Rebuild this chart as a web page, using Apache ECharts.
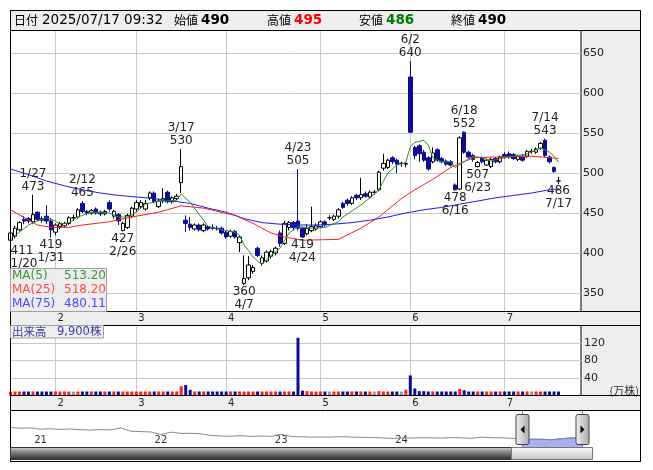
<!DOCTYPE html>
<html><head><meta charset="utf-8">
<script src="https://cdn.jsdelivr.net/npm/echarts@6/dist/echarts.min.js"></script>
<style>html,body{margin:0;padding:0;background:#fff}#c{width:653px;height:470px}</style>
</head><body><div id="c"></div>
<script>
// ---------------- data ----------------
const dates = ['1/20','1/21','1/22','1/23','1/24','1/27','1/28','1/29','1/30','1/31',
'2/3','2/4','2/5','2/6','2/7','2/10','2/12','2/13','2/14','2/17','2/18','2/19','2/20','2/21','2/25','2/26','2/27','2/28',
'3/3','3/4','3/5','3/6','3/7','3/10','3/11','3/12','3/13','3/14','3/17','3/18','3/19','3/21','3/24','3/25','3/26','3/27','3/28','3/31',
'4/1','4/2','4/3','4/4','4/7','4/8','4/9','4/10','4/11','4/14','4/15','4/16','4/17','4/18','4/21','4/22','4/23','4/24','4/25','4/28','4/30',
'5/1','5/2','5/7','5/8','5/9','5/12','5/13','5/14','5/15','5/16','5/19','5/20','5/21','5/22','5/23','5/26','5/27','5/28','5/29','5/30',
'6/2','6/3','6/4','6/5','6/6','6/9','6/10','6/11','6/12','6/13','6/16','6/17','6/18','6/19','6/20','6/23','6/24','6/25','6/26','6/27','6/30',
'7/1','7/2','7/3','7/4','7/7','7/8','7/9','7/10','7/11','7/14','7/15','7/16','7/17'];
const opens = [416,421,429,442,443,439,451,443,446,440,
426,433,434,437,444,445,462,452,450,455,451,449,463,446,448,428,432,446,
455,458,455,469,475,458,465,476,464,468,488,441,436,430,435,428,433,432,431,431,
426,421,427,413,362,369,377,406,387,390,396,400,425,412,432,438,440,431,424,428,430,
433,439,444,442,446,462,466,462,472,469,474,470,476,479,506,507,519,516,512,511,
620,532,534,526,519,514,529,518,515,514,485,480,551,526,522,508,519,510,508,518,514,
523,524,523,517,521,521,527,526,531,541,520,507,490];
const closes = [425,431,438,440,440,448,442,441,440,429,
435,437,437,444,444,454,452,450,453,450,449,452,455,452,440,437,447,456,
463,463,462,475,464,465,468,464,469,471,508,437,432,435,429,435,430,431,430,425,
420,427,420,420,368,385,382,397,394,401,402,406,412,437,438,432,431,420,431,433,434,
439,435,444,446,454,457,462,469,469,473,471,476,476,501,512,516,514,511,512,512,
551,522,524,516,505,525,516,514,511,510,479,544,526,520,517,513,514,516,517,514,520,
520,520,518,521,516,527,527,530,537,522,514,502,490];
const lows = [411,418,427,436,437,436,440,438,436,419,
422,430,432,435,440,443,450,447,448,448,446,447,452,443,435,427,430,444,
452,455,453,466,462,456,462,462,462,466,475,426,428,428,427,426,428,429,428,423,
418,419,418,401,360,366,374,395,384,388,393,397,408,410,428,428,428,419,422,426,428,
431,433,441,440,443,455,459,460,466,466,469,468,473,477,503,505,511,500,508,507,
550,517,514,514,503,512,514,512,509,508,478,479,524,518,514,507,512,509,506,512,512,
518,518,516,515,514,519,524,524,529,520,512,500,486];
const highs = [428,434,440,446,445,473,452,446,460,444,
437,439,439,446,448,456,465,454,455,457,453,454,466,454,450,439,449,458,
466,466,466,477,477,468,481,478,471,474,530,447,445,437,437,437,435,436,434,433,
428,429,429,422,397,396,385,408,397,403,404,408,428,440,440,440,505,433,436,458,437,
441,441,447,448,456,464,468,471,474,494,477,478,479,503,524,518,521,518,514,514,
640,534,536,529,521,532,531,520,517,516,487,546,552,528,524,515,521,518,519,520,522,
526,527,525,523,523,529,530,532,539,543,522,508,495];
// volume, 万株
const volumes = [3,4,3,2,3,6,4,2,5,5,
4,3,3,4,2,5,7,3,4,3,2,3,6,4,4,6,5,4,
4,3,4,6,4,3,5,4,3,3,21,24,13,5,4,4,3,3,4,3,
4,3,4,6,9,7,5,8,5,4,3,4,7,9,6,5,132,11,10,8,5,
4,3,3,4,5,6,4,5,3,8,3,4,3,10,9,5,4,5,3,13,
46,16,10,10,8,5,6,4,3,5,9,15,12,6,5,4,4,5,3,3,4,
4,3,4,3,3,4,3,3,4,9,8,6,0.99];
const quoteTime = '2025/07/17 09:32';

const ma5Dates = ['1/20','1/22','1/24','1/28','1/30','2/3','2/4','2/6','2/10','2/14','2/18','2/20','2/25','2/27','3/3','3/5','3/10','3/12','3/14','3/17','3/19','3/25','3/26','3/31','4/3','4/4','4/7','4/8','4/9','4/10','4/11','4/14','4/15','4/17','4/21','4/23','4/28','5/2','5/9','5/12','5/16','5/20','5/22','5/26','5/28','5/30','6/2','6/3','6/5','6/6','6/9','6/11','6/13','6/16','6/18','6/20','6/24','6/26','6/30','7/3','7/8','7/11','7/14','7/15','7/16','7/17'];
const ma5Vals = [418,426,435,440,444,440,436,438,445,451,451,450,445,445,451,461,465,465,466,474,463,441,433,429,426,422,410,403,395,390,386,391,397,406,425,433,431,432,439,445,460,469,479,500,510,513,533,538,541,535,519,514,514,507,514,521,519,515,518,521,524,531,529,526,521,513.20];
const ma25Dates = ['1/20','1/28','1/31','2/6','2/12','2/20','2/28','3/10','3/17','3/25','4/3','4/9','4/15','4/18','4/24','5/9','5/16','5/22','5/29','6/3','6/9','6/13','6/20','6/27','7/9','7/17'];
const ma25Vals = [454,435,432,432,435,439,445,451,459,456,447,437,425,420,416,417,431,445,468,479,492,507,519,520,521,518.20];
const ma75Dates = ['1/20','1/24','1/30','2/5','2/12','2/18','2/25','3/3','3/7','3/13','3/19','3/26','4/1','4/7','4/11','4/17','4/23','4/30','5/8','5/14','5/20','5/26','5/30','6/5','6/11','6/17','6/23','6/27','7/3','7/9','7/15','7/17'];
const ma75Vals = [505,498,490,484,479,475,472,470,468,465,462,456,451,443,438,436,435,435,436,438,441,445,450,454,457,461,465,469,472,475,479,480.11];

const highMarkDates = ['1/27','2/12','3/17','4/23','6/2','6/18','7/14'];
const highMarkVals = [473,465,530,505,640,552,543];
const lowMarkDates = ['1/20','1/31','2/26','4/7','4/24','6/16','6/23','7/17'];
const lowMarkVals = [411,419,427,360,419,478,507,486];

const navMonths = ['2020/10','2020/11','2020/12',
'2021/01','2021/02','2021/03','2021/04','2021/05','2021/06','2021/07','2021/08','2021/09','2021/10','2021/11','2021/12',
'2022/01','2022/02','2022/03','2022/04','2022/05','2022/06','2022/07','2022/08','2022/09','2022/10','2022/11','2022/12',
'2023/01','2023/02','2023/03','2023/04','2023/05','2023/06','2023/07','2023/08','2023/09','2023/10','2023/11','2023/12',
'2024/01','2024/02','2024/03','2024/04','2024/05','2024/06','2024/07','2024/08','2024/09','2024/10','2024/11','2024/12',
'2025/01','2025/02','2025/03','2025/04','2025/05','2025/06','2025/07'];
const navValues = [1080,1040,1060,
990,1010,980,1000,960,940,970,950,1060,880,860,840,
700,830,760,770,740,650,620,610,640,600,620,600,
720,590,580,560,570,560,590,560,550,540,520,490,
520,510,530,520,510,540,520,500,560,530,520,500,
440,450,445,420,480,520,515];
const navSelStart = '2025/01';

// ---------------- helpers ----------------
const FONT = '"DejaVu Sans", "Noto Sans CJK JP", sans-serif';
const JP = '"Noto Sans CJK JP", sans-serif';
const NAVY = '#0c0c94';
const padCats = ['pad1','pad2','pad3','pad4','pad5'];
const cats = dates.concat(padCats);
const monthOf = d => d.split('/')[0];
const monthStart = new Set();
dates.forEach((d, i) => { if (i > 0 && monthOf(d) !== monthOf(dates[i - 1])) monthStart.add(i); });
const isMS = i => monthStart.has(i);
const navYear = v => (v.endsWith('/01') && v < '2025') ? v.slice(2, 4) : '';
const last = dates.length - 1;

const candleData = dates.map((d, i) => [opens[i], closes[i], lows[i], highs[i]]);
const volColor = i => closes[i] > opens[i] ? '#ff2020' : (closes[i] < opens[i] ? NAVY : (i === last ? NAVY : '#9a9a9a'));
const volData = volumes.map((v, i) => ({ value: v, itemStyle: { color: volColor(i) } }));

const markLabel = { show: true, fontSize: 12, lineHeight: 13, color: '#222', fontFamily: FONT };
const marks = [];
highMarkDates.forEach((d, k) => marks.push({
  coord: [d, highMarkVals[k]],
  label: Object.assign({}, markLabel, { position: 'top', distance: 1, formatter: d + '\n' + highMarkVals[k] },
    dates.indexOf(d) === 0 ? { align: 'left' } : {})
}));
lowMarkDates.forEach((d, k) => marks.push({
  coord: [d, lowMarkVals[k]],
  label: Object.assign({}, markLabel, { position: 'bottom', distance: 0, formatter: lowMarkVals[k] + '\n' + d },
    dates.indexOf(d) === 0 ? { align: 'left' } : {})
}));

const pairs = (ds, vs) => ds.map((d, k) => [d, vs[k]]);

// price scale: 0.8 px per yen, grid height 281
const priceMax = 678.125, priceMin = 326.875;

const monthAxis = (gi) => ({
  type: 'category', gridIndex: gi, data: cats, boundaryGap: false,
  axisLine: { show: false }, axisTick: { show: false },
  axisLabel: { interval: (i) => isMS(i), formatter: (v) => monthOf(v), fontSize: 10, color: '#222',
    margin: gi === 0 ? 2 : 3, align: 'left', padding: [0, 0, 0, 2], fontFamily: FONT },
  splitLine: { show: true, interval: (i) => isMS(i), lineStyle: { color: '#c8c8c8', width: 1 } }
});

const option = {
  animation: false,
  backgroundColor: '#ffffff',
  textStyle: { fontFamily: FONT },
  grid: [
    { left: 10.5, top: 30.5, width: 570.5, height: 281, show: true, backgroundColor: '#fff', borderColor: '#000', borderWidth: 1 },
    { left: 10.5, top: 325.5, width: 570.5, height: 70, show: true, backgroundColor: '#fff', borderColor: '#000', borderWidth: 1 },
    { left: 10.5, top: 410.5, width: 571.5, height: 37, show: false }
  ],
  xAxis: [
    monthAxis(0),
    monthAxis(1),
    { type: 'category', gridIndex: 2, data: navMonths, boundaryGap: false,
      axisLine: { show: false }, axisTick: { show: false }, splitLine: { show: false },
      axisLabel: { interval: (i, v) => navYear(v) !== '', formatter: navYear, inside: true, fontSize: 10, color: '#333', margin: 2 } }
  ],
  yAxis: [
    { type: 'value', gridIndex: 0, position: 'right', min: priceMin, max: priceMax, splitNumber: 7,
      axisLine: { show: false }, axisTick: { show: false },
      axisLabel: { fontSize: 11, color: '#222', margin: 2, showMinLabel: false, showMaxLabel: false,
        formatter: v => (Math.abs(v % 50) < 1e-6 ? String(v) : '') },
      splitLine: { lineStyle: { color: '#c8c8c8', width: 1 } } },
    { type: 'value', gridIndex: 1, position: 'right', min: 0, max: 160, interval: 40,
      axisLine: { show: false }, axisTick: { show: false },
      axisLabel: { fontSize: 11, color: '#222', margin: 3, formatter: v => (v > 0 && v < 160 ? String(v) : '') },
      splitLine: { lineStyle: { color: '#c8c8c8', width: 1 } } },
    { type: 'value', gridIndex: 2, min: 0, max: 2000, show: false }
  ],
  series: [
    { type: 'candlestick', xAxisIndex: 0, yAxisIndex: 0, data: candleData, barWidth: 4, z: 2,
      itemStyle: { color: '#ffffff', color0: NAVY, borderColor: '#000', borderColor0: NAVY, borderColorDoji: '#000', borderWidth: 1 },
      markPoint: { symbol: 'circle', symbolSize: 1, silent: true, itemStyle: { color: 'rgba(0,0,0,0)' }, data: marks } },
    { type: 'line', xAxisIndex: 0, yAxisIndex: 0, data: pairs(ma75Dates, ma75Vals), symbol: 'none', z: 3,
      lineStyle: { color: '#1a1aff', width: 1 } },
    { type: 'line', xAxisIndex: 0, yAxisIndex: 0, data: pairs(ma25Dates, ma25Vals), symbol: 'none', z: 3,
      lineStyle: { color: '#ff1a1a', width: 1 } },
    { type: 'line', xAxisIndex: 0, yAxisIndex: 0, data: pairs(ma5Dates, ma5Vals), symbol: 'none', z: 3,
      lineStyle: { color: '#2f8f2f', width: 1 } },
    { type: 'bar', xAxisIndex: 1, yAxisIndex: 1, data: volData, barWidth: 3, barMinHeight: 4 },
    { type: 'line', xAxisIndex: 2, yAxisIndex: 2, symbol: 'none', z: 2,
      data: navValues.map((v, k) => (k >= navMonths.indexOf(navSelStart) ? v : null)),
      lineStyle: { color: '#7080d0', width: 1 }, areaStyle: { color: '#a6b0f0', opacity: 1 } },
    { type: 'line', xAxisIndex: 2, yAxisIndex: 2, symbol: 'none', z: 3, data: navValues,
      lineStyle: { color: '#8a8a8a', width: 1 } }
  ]
};

const chart = echarts.init(document.getElementById('c'), null, { renderer: 'canvas', width: 653, height: 470 });
chart.setOption(option);

// ---------------- decorations ----------------
const hx1 = chart.convertToPixel({ xAxisIndex: 2 }, navSelStart);
const hx2 = chart.convertToPixel({ xAxisIndex: 2 }, navMonths[navMonths.length - 1]);
const txt = (text, x, y, font, fill, align) => ({ type: 'text', z: 20,
  style: { text, x, y, font, fill: fill || '#000', align: align || 'left', verticalAlign: 'middle',
    textAlign: align || 'left', textVerticalAlign: 'middle' } });
const hline = (y) => ({ type: 'line', z: 15, shape: { x1: 10.5, y1: y, x2: 640.5, y2: y }, style: { stroke: '#000', lineWidth: 1 } });

const g = [];
g.push({ type: 'rect', z: -10, shape: { x: 10.5, y: 10.5, width: 630, height: 451 }, style: { fill: '#eeeeee', stroke: '#000', lineWidth: 1 } });
g.push({ type: 'rect', z: -9, shape: { x: 11, y: 411, width: 629, height: 50 }, style: { fill: '#ffffff' } });
g.push(hline(30.5), hline(311.5), hline(325.5), hline(395.5), hline(410.5));
g.push({ type: 'rect', z: 15, shape: { x: 10.5, y: 10.5, width: 630, height: 451 }, style: { fill: 'none', stroke: '#000', lineWidth: 1 } });

// header
const hb = 'bold 13.5px "DejaVu Sans"';
const hn = '13.5px "DejaVu Sans"';
const hj = '12px ' + JP;
g.push(txt('日付', 14, 20.5, hj), txt(quoteTime, 42, 20.5, hn),
  txt('始値', 174, 20.5, hj), txt(String(opens[last]), 201, 20.5, hb),
  txt('高値', 267, 20.5, hj), txt(String(highs[last]), 294, 20.5, hb, '#ff0000'),
  txt('安値', 359, 20.5, hj), txt(String(lows[last]), 386, 20.5, hb, '#007a00'),
  txt('終値', 451, 20.5, hj), txt(String(closes[last]), 478, 20.5, hb));

// MA legend box
g.push({ type: 'rect', z: 18, shape: { x: 10.5, y: 268.5, width: 96, height: 43 }, style: { fill: 'rgba(236,236,236,0.92)', stroke: '#a0a0a0', lineWidth: 1 } });
const maRows = [['MA(5)', ma5Vals[ma5Vals.length - 1], '#3c963c', 276],
                ['MA(25)', ma25Vals[ma25Vals.length - 1], '#ff4a4a', 290],
                ['MA(75)', ma75Vals[ma75Vals.length - 1], '#4a4aff', 304]];
maRows.forEach(r => { g.push(txt(r[0], 12, r[3], '12px "DejaVu Sans"', r[2]), txt(r[1].toFixed(2), 106, r[3], '12px "DejaVu Sans"', r[2], 'right')); });

// volume label box
g.push({ type: 'rect', z: 18, shape: { x: 10.5, y: 325.5, width: 93, height: 12.5 }, style: { fill: '#eeeeee', stroke: '#a0a0a0', lineWidth: 1 } });
g.push(txt('出来高', 12, 332, '11.5px ' + JP, '#3a3aa0'),
  txt((volumes[last] * 10000).toLocaleString('en-US') + '株', 57, 332, '11.5px "DejaVu Sans", ' + JP, '#3a3aa0'));
g.push(txt('(万株)', 639, 391, '11px ' + JP, '#333', 'right'));

// navigator selection & handles
[hx1, hx2].forEach(x => g.push({ type: 'line', z: 20, shape: { x1: Math.round(x) + 0.5, y1: 411, x2: Math.round(x) + 0.5, y2: 447.5 }, style: { stroke: '#30a0d0', lineWidth: 1 } }));
[[hx1, -1], [hx2, 1]].forEach(([x, dir]) => {
  const cx = Math.round(x) + 0.5;
  g.push({ type: 'rect', z: 21, shape: { x: cx - 6.5, y: 414.5, width: 13, height: 30, r: 2 },
    style: { fill: new echarts.graphic.LinearGradient(0, 0, 1, 0, [{ offset: 0, color: '#f4f4f4' }, { offset: 1, color: '#a8a8a8' }]), stroke: '#444', lineWidth: 1 } });
  g.push({ type: 'polygon', z: 22, shape: { points: dir < 0 ? [[cx + 2, 425.5], [cx + 2, 433.5], [cx - 2, 429.5]] : [[cx - 2, 425.5], [cx - 2, 433.5], [cx + 2, 429.5]] }, style: { fill: '#000' } });
});
const t0 = Math.round(hx1) - 10.5, t1 = Math.round(hx2) + 10.5;
g.push({ type: 'rect', z: 19, shape: { x: 10.5, y: 447.5, width: t0 - 10.5, height: 12 },
  style: { fill: new echarts.graphic.LinearGradient(0, 0, 0, 1, [{ offset: 0, color: '#d8d8d8' }, { offset: 0.35, color: '#8a8a8a' }, { offset: 1, color: '#2a2a2a' }]), stroke: '#333', lineWidth: 1 } });
g.push({ type: 'rect', z: 19, shape: { x: t0, y: 447.5, width: t1 - t0, height: 12 },
  style: { fill: new echarts.graphic.LinearGradient(0, 0, 0, 1, [{ offset: 0, color: '#fbfbfb' }, { offset: 1, color: '#c4c4c4' }]), stroke: '#777', lineWidth: 1 } });

chart.setOption({ graphic: { elements: g } });
</script></body></html>
